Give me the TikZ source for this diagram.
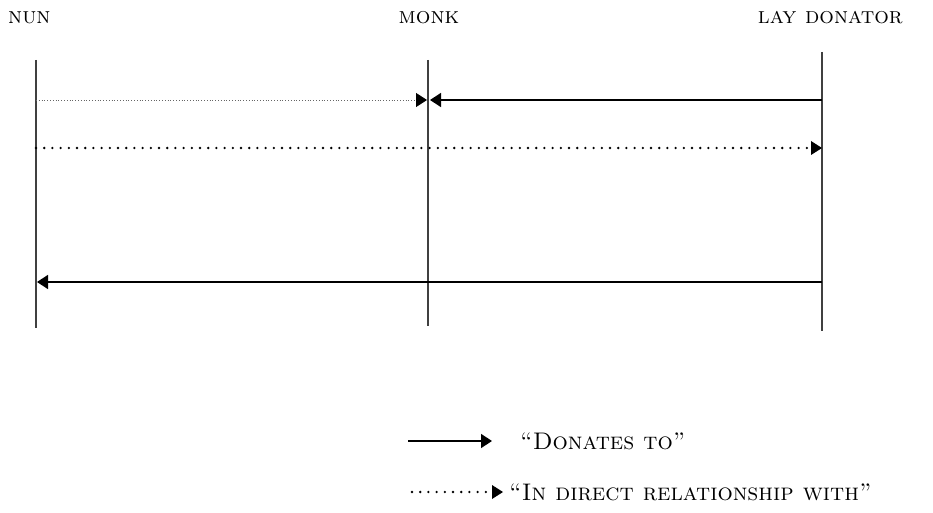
\documentclass[tikz,border=0pt]{standalone}
\usetikzlibrary{arrows.meta}
\begin{document}
\begin{tikzpicture}[x=1pt,y=-1pt,
  lifeline/.style={line width=1.3pt,draw=black!75},
  donates/.style={line width=1.4pt,-{Triangle[length=11pt,width=14pt]}},
  relates/.style={line width=2.6pt,line cap=round,dash pattern=on 0pt off 8.2pt,
    -{Triangle[length=11pt,width=14pt,line width=0pt,round=false]}},
  faint/.style={line width=0.8pt,dotted,draw=black!60,-{Triangle[length=11pt,width=14pt,fill=black,color=black]}},
  head/.style={font=\fontsize{23}{26}\selectfont\scshape,inner sep=0pt},
  legend/.style={font=\fontsize{24}{28}\selectfont\scshape,inner sep=0pt,anchor=west}]
\useasboundingbox (0,0) rectangle (933,513);

% column headings
\node[head,anchor=west] (nun) at (8,18) {nun};
\node[head] (monk) at (429,18) {monk};
\node[head,anchor=east] (lay) at (903,18) {lay donator};

% lifelines
\coordinate (nunT) at (36,60);  \coordinate (nunB) at (36,328);
\coordinate (monkT) at (428,60); \coordinate (monkB) at (428,326);
\coordinate (layT) at (822,52);  \coordinate (layB) at (822,331);
\draw[lifeline] (nunT) -- (nunB);
\draw[lifeline] (monkT) -- (monkB);
\draw[lifeline] (layT) -- (layB);

% first row
\coordinate (n1) at (36,100);  \coordinate (m1l) at (427,100);
\coordinate (m1r) at (430,100); \coordinate (l1) at (822,100);
\draw[faint] (n1) -- (m1l);
\draw[donates] (l1) -- (m1r);

% second row
\coordinate (n2) at (36,148); \coordinate (l2) at (822,148);
\draw[relates] (n2) -- (l2);

% third row
\coordinate (n3) at (37,282); \coordinate (l3) at (822,282);
\draw[donates] (l3) -- (n3);

% legend
\coordinate (ka) at (408,441); \coordinate (kb) at (492,441);
\draw[donates] (ka) -- (kb);
\node[legend] (kt1) at (520,441) {``Donates to''};
\coordinate (kc) at (412,492); \coordinate (kd) at (503,492);
\draw[relates] (kc) -- (kd);
\node[legend] (kt2) at (509,492) {``In direct relationship with''};
\end{tikzpicture}
\end{document}
